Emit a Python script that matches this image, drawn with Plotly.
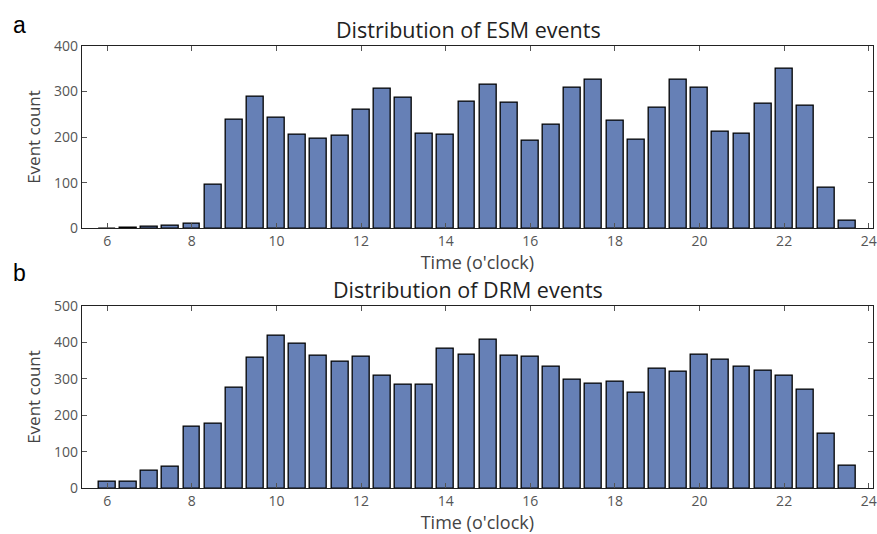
import plotly.graph_objects as go

# Half-hour bins from 6:00 to 23:30
hours = [6.0 + 0.5 * i for i in range(36)]

esm_counts = [0, 2, 4, 6, 9, 96, 238, 289, 243, 206, 197, 203,
              260, 305, 287, 207, 205, 277, 314, 275, 191, 228, 309, 326,
              236, 193, 264, 325, 308, 212, 207, 274, 350, 268, 89, 16]

drm_counts = [18, 18, 47, 60, 168, 176, 276, 358, 418, 395, 362, 346,
              360, 309, 283, 283, 383, 367, 406, 364, 359, 332, 298, 287,
              291, 263, 328, 319, 366, 352, 333, 322, 309, 269, 149, 61]

x_ticks = [6, 8, 10, 12, 14, 16, 18, 20, 22, 24]
titles = ["Distribution of ESM events", "Distribution of DRM events"]
panel_letters = ["a", "b"]

BAR_COLOR = "#6680B6"
FONT = "Open Sans"

fig = go.Figure()
fig.add_trace(go.Bar(x=hours, y=esm_counts, width=0.4, xaxis="x", yaxis="y",
                     marker=dict(color=BAR_COLOR, line=dict(color="black", width=1.3))))
fig.add_trace(go.Bar(x=hours, y=drm_counts, width=0.4, xaxis="x2", yaxis="y2",
                     marker=dict(color=BAR_COLOR, line=dict(color="black", width=1.3))))

x_dom = [0.0933, 0.9954]
xaxis_common = dict(
    range=[5.4, 24.1], tickvals=x_ticks, ticks="inside", ticklen=5,
    tickcolor="#555", tickwidth=1, showline=True, linecolor="#222", linewidth=1,
    mirror="ticks", showgrid=False, zeroline=False, automargin=False,
    tickfont=dict(family=FONT, size=14, color="#555"),
    title=dict(text="Time (o'clock)", font=dict(family=FONT, size=18, color="#444"), standoff=3),
    domain=x_dom,
)
yaxis_common = dict(
    ticks="inside", ticklen=5, tickcolor="#555", tickwidth=1,
    showline=True, linecolor="#222", linewidth=1, mirror="ticks",
    showgrid=False, zeroline=False, automargin=False,
    tickfont=dict(family=FONT, size=14, color="#555"),
    title=dict(text="Event count", font=dict(family=FONT, size=17, color="#444"), standoff=9),
)

fig.update_layout(
    width=877, height=534, margin=dict(l=0, r=0, t=0, b=0),
    paper_bgcolor="white", plot_bgcolor="white", showlegend=False, bargap=0,
    xaxis=dict(**xaxis_common, anchor="y"),
    yaxis=dict(**yaxis_common, range=[0, 400], tickvals=[0, 100, 200, 300, 400],
               domain=[0.5725, 0.9144], anchor="x"),
    xaxis2=dict(**xaxis_common, anchor="y2"),
    yaxis2=dict(**yaxis_common, range=[0, 500], tickvals=[0, 100, 200, 300, 400, 500],
                domain=[0.0856, 0.4275], anchor="x2"),
)

# Panel titles and letters
for title, letter, ty, ly in zip(titles, panel_letters, [0.944, 0.4588], [0.953, 0.4888]):
    fig.add_annotation(text=title, xref="paper", yref="paper", x=0.534, y=ty,
                       xanchor="center", yanchor="middle", showarrow=False,
                       font=dict(family=FONT, size=21.5, color="#222"))
    fig.add_annotation(text=letter, xref="paper", yref="paper", x=0.012, y=ly,
                       xanchor="left", yanchor="middle", showarrow=False,
                       font=dict(family="Liberation Sans", size=23, color="black"))

fig.write_html("out.html")
